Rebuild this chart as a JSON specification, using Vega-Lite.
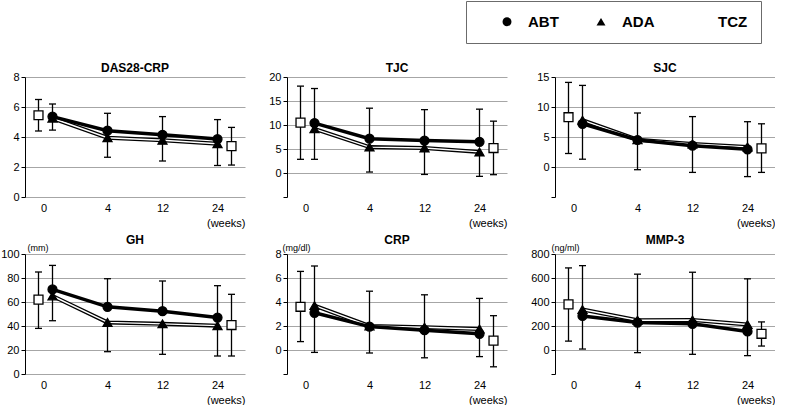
{
"$schema": "https://vega.github.io/schema/vega-lite/v6.json",
"padding": 0,
"data": {"values": [
{"m":"DAS28-CRP","g":"ABT","week":0,"v":5.36,"hi":6.2},
{"m":"DAS28-CRP","g":"ABT","week":4,"v":4.42,"hi":5.58},
{"m":"DAS28-CRP","g":"ABT","week":12,"v":4.15,"hi":5.36},
{"m":"DAS28-CRP","g":"ABT","week":24,"v":3.86,"hi":5.16},
{"m":"DAS28-CRP","g":"ADA","week":0,"v":5.25,"lo":4.46},
{"m":"DAS28-CRP","g":"ADA","week":4,"v":3.95,"lo":2.65},
{"m":"DAS28-CRP","g":"ADA","week":12,"v":3.78,"lo":2.4},
{"m":"DAS28-CRP","g":"ADA","week":24,"v":3.55,"lo":2.1},
{"m":"DAS28-CRP","g":"TCZ","week":0,"v":5.45,"lo":4.4,"hi":6.5},
{"m":"DAS28-CRP","g":"TCZ","week":24,"v":3.39,"lo":2.13,"hi":4.64},
{"m":"TJC","g":"ABT","week":0,"v":10.4,"hi":17.6},
{"m":"TJC","g":"ABT","week":4,"v":7.15,"hi":13.5},
{"m":"TJC","g":"ABT","week":12,"v":6.75,"hi":13.2},
{"m":"TJC","g":"ABT","week":24,"v":6.5,"hi":13.3},
{"m":"TJC","g":"ADA","week":0,"v":9.2,"lo":2.85},
{"m":"TJC","g":"ADA","week":4,"v":5.4,"lo":0.2},
{"m":"TJC","g":"ADA","week":12,"v":5.2,"lo":-0.3},
{"m":"TJC","g":"ADA","week":24,"v":4.4,"lo":-0.7},
{"m":"TJC","g":"TCZ","week":0,"v":10.5,"lo":2.85,"hi":18.1},
{"m":"TJC","g":"TCZ","week":24,"v":5.2,"lo":-0.35,"hi":10.8},
{"m":"SJC","g":"ABT","week":0,"v":7.2,"hi":13.6},
{"m":"SJC","g":"ABT","week":4,"v":4.5,"hi":9.0},
{"m":"SJC","g":"ABT","week":12,"v":3.55,"hi":8.4},
{"m":"SJC","g":"ABT","week":24,"v":2.95,"hi":7.55},
{"m":"SJC","g":"ADA","week":0,"v":7.8,"lo":1.3},
{"m":"SJC","g":"ADA","week":4,"v":4.55,"lo":-0.45},
{"m":"SJC","g":"ADA","week":12,"v":3.85,"lo":-0.9},
{"m":"SJC","g":"ADA","week":24,"v":3.35,"lo":-1.6},
{"m":"SJC","g":"TCZ","week":0,"v":8.3,"lo":2.25,"hi":14.1},
{"m":"SJC","g":"TCZ","week":24,"v":3.1,"lo":-0.9,"hi":7.2},
{"m":"GH","g":"ABT","week":0,"v":70.5,"hi":90.5},
{"m":"GH","g":"ABT","week":4,"v":56,"hi":79.4},
{"m":"GH","g":"ABT","week":12,"v":52.3,"hi":77.5},
{"m":"GH","g":"ABT","week":24,"v":47,"hi":73.6},
{"m":"GH","g":"ADA","week":0,"v":65,"lo":44.4},
{"m":"GH","g":"ADA","week":4,"v":43,"lo":18.6},
{"m":"GH","g":"ADA","week":12,"v":41.8,"lo":16.4},
{"m":"GH","g":"ADA","week":24,"v":40.3,"lo":15},
{"m":"GH","g":"TCZ","week":0,"v":62,"lo":38,"hi":85},
{"m":"GH","g":"TCZ","week":24,"v":40.8,"lo":15,"hi":66.4},
{"m":"CRP","g":"ABT","week":0,"v":3.1,"hi":7.0},
{"m":"CRP","g":"ABT","week":4,"v":1.95,"hi":4.9},
{"m":"CRP","g":"ABT","week":12,"v":1.65,"hi":4.6},
{"m":"CRP","g":"ABT","week":24,"v":1.35,"hi":4.3},
{"m":"CRP","g":"ADA","week":0,"v":3.7,"lo":-0.2},
{"m":"CRP","g":"ADA","week":4,"v":2.0,"lo":-0.25},
{"m":"CRP","g":"ADA","week":12,"v":1.9,"lo":-0.65},
{"m":"CRP","g":"ADA","week":24,"v":1.75,"lo":-0.55},
{"m":"CRP","g":"TCZ","week":0,"v":3.6,"lo":0.7,"hi":6.55},
{"m":"CRP","g":"TCZ","week":24,"v":0.78,"lo":-1.4,"hi":2.86},
{"m":"MMP-3","g":"ABT","week":0,"v":284,"hi":703},
{"m":"MMP-3","g":"ABT","week":4,"v":229,"hi":632},
{"m":"MMP-3","g":"ABT","week":12,"v":218,"hi":648},
{"m":"MMP-3","g":"ABT","week":24,"v":155,"hi":593},
{"m":"MMP-3","g":"ADA","week":0,"v":337,"lo":8},
{"m":"MMP-3","g":"ADA","week":4,"v":248,"lo":-22},
{"m":"MMP-3","g":"ADA","week":12,"v":250,"lo":-36},
{"m":"MMP-3","g":"ADA","week":24,"v":212,"lo":-47},
{"m":"MMP-3","g":"TCZ","week":0,"v":380,"lo":74,"hi":684},
{"m":"MMP-3","g":"TCZ","week":24,"v":135,"lo":33,"hi":234}
]},
"transform": [{"calculate": "datum.g === 'TCZ' ? (datum.week === 0 ? -1 : 1) : 0", "as": "side"}],
"columns": 3,
"spacing": {"row": 6, "column": 23},
"concat": [
{
 "title": "DAS28-CRP", "width": 220, "height": 120,
 "transform": [{"filter": "datum.m === 'DAS28-CRP'"}],
 "encoding": {
  "x": {"field":"week","type":"ordinal","title":"(weeks)","scale":{"type":"point","domain":[0,4,12,24],"padding":0.5},"axis":{"labelOffset":{"condition":{"test":"datum.value === 0","value":-9},"value":0}}},
  "y": {"field":"v","type":"quantitative","scale":{"domain":[0,8],"nice":false,"zero":false},"axis":{"values":[0,2,4,6,8],"title":null,"labelExpr":"datum.value < 0 ? '' : datum.label","gridColor":{"condition":{"test":"datum.value < 0","value":"transparent"},"value":"#a6a6a6"}}}
 },
 "layer": [
  {"transform":[{"filter":"datum.hi != null"}],"mark":{"type":"rule","color":"black","strokeWidth":1.3},"encoding":{"xOffset":{"field":"side","type":"quantitative","scale":{"domain":[-1,1],"range":[-14,14]}},"y2":{"field":"hi"}}},
  {"transform":[{"filter":"datum.lo != null"}],"mark":{"type":"rule","color":"black","strokeWidth":1.3},"encoding":{"xOffset":{"field":"side","type":"quantitative","scale":{"domain":[-1,1],"range":[-14,14]}},"y2":{"field":"lo"}}},
  {"transform":[{"filter":"datum.hi != null"}],"mark":{"type":"tick","color":"black","size":7,"thickness":1.3,"opacity":1},"encoding":{"xOffset":{"field":"side","type":"quantitative","scale":{"domain":[-1,1],"range":[-14,14]}},"y":{"field":"hi","type":"quantitative","scale":{"domain":[0,8],"nice":false,"zero":false}}}},
  {"transform":[{"filter":"datum.lo != null"}],"mark":{"type":"tick","color":"black","size":7,"thickness":1.3,"opacity":1},"encoding":{"xOffset":{"field":"side","type":"quantitative","scale":{"domain":[-1,1],"range":[-14,14]}},"y":{"field":"lo","type":"quantitative","scale":{"domain":[0,8],"nice":false,"zero":false}}}},
  {"transform":[{"filter":"datum.g === 'ADA'"}],"mark":{"type":"line","color":"black","strokeWidth":4},"encoding":{}},
  {"transform":[{"filter":"datum.g === 'ADA'"}],"mark":{"type":"line","color":"white","strokeWidth":1.4},"encoding":{}},
  {"transform":[{"filter":"datum.g === 'ABT'"}],"mark":{"type":"line","color":"black","strokeWidth":3.5},"encoding":{}},
  {"mark":{"type":"point","filled":true,"opacity":1,"size":80,"stroke":"black","strokeWidth":1.3},"encoding":{
    "xOffset":{"field":"side","type":"quantitative","scale":{"domain":[-1,1],"range":[-14,14]}},
    "shape":{"field":"g","type":"nominal","scale":{"domain":["ABT","ADA","TCZ"],"range":["circle","triangle-up","square"]},"legend":{"title":null}},
    "fill":{"field":"g","type":"nominal","scale":{"domain":["ABT","ADA","TCZ"],"range":["black","black","white"]},"legend":{"title":null}}}}
 ]
},
{
 "title": "TJC", "width": 220, "height": 120,
 "transform": [{"filter": "datum.m === 'TJC'"}],
 "encoding": {
  "x": {"field":"week","type":"ordinal","title":"(weeks)","scale":{"type":"point","domain":[0,4,12,24],"padding":0.5},"axis":{"labelOffset":{"condition":{"test":"datum.value === 0","value":-9},"value":0}}},
  "y": {"field":"v","type":"quantitative","scale":{"domain":[-5,20],"nice":false,"zero":false},"axis":{"values":[-5,0,5,10,15,20],"title":null,"labelExpr":"datum.value < 0 ? '' : datum.label","gridColor":{"condition":{"test":"datum.value < 0","value":"transparent"},"value":"#a6a6a6"}}}
 },
 "layer": [
  {"transform":[{"filter":"datum.hi != null"}],"mark":{"type":"rule","color":"black","strokeWidth":1.3},"encoding":{"xOffset":{"field":"side","type":"quantitative","scale":{"domain":[-1,1],"range":[-14,14]}},"y2":{"field":"hi"}}},
  {"transform":[{"filter":"datum.lo != null"}],"mark":{"type":"rule","color":"black","strokeWidth":1.3},"encoding":{"xOffset":{"field":"side","type":"quantitative","scale":{"domain":[-1,1],"range":[-14,14]}},"y2":{"field":"lo"}}},
  {"transform":[{"filter":"datum.hi != null"}],"mark":{"type":"tick","color":"black","size":7,"thickness":1.3,"opacity":1},"encoding":{"xOffset":{"field":"side","type":"quantitative","scale":{"domain":[-1,1],"range":[-14,14]}},"y":{"field":"hi","type":"quantitative","scale":{"domain":[-5,20],"nice":false,"zero":false}}}},
  {"transform":[{"filter":"datum.lo != null"}],"mark":{"type":"tick","color":"black","size":7,"thickness":1.3,"opacity":1},"encoding":{"xOffset":{"field":"side","type":"quantitative","scale":{"domain":[-1,1],"range":[-14,14]}},"y":{"field":"lo","type":"quantitative","scale":{"domain":[-5,20],"nice":false,"zero":false}}}},
  {"transform":[{"filter":"datum.g === 'ADA'"}],"mark":{"type":"line","color":"black","strokeWidth":4},"encoding":{}},
  {"transform":[{"filter":"datum.g === 'ADA'"}],"mark":{"type":"line","color":"white","strokeWidth":1.4},"encoding":{}},
  {"transform":[{"filter":"datum.g === 'ABT'"}],"mark":{"type":"line","color":"black","strokeWidth":3.5},"encoding":{}},
  {"mark":{"type":"point","filled":true,"opacity":1,"size":80,"stroke":"black","strokeWidth":1.3},"encoding":{
    "xOffset":{"field":"side","type":"quantitative","scale":{"domain":[-1,1],"range":[-14,14]}},
    "shape":{"field":"g","type":"nominal","scale":{"domain":["ABT","ADA","TCZ"],"range":["circle","triangle-up","square"]}},
    "fill":{"field":"g","type":"nominal","scale":{"domain":["ABT","ADA","TCZ"],"range":["black","black","white"]}}}}
 ]
},
{
 "title": "SJC", "width": 220, "height": 120,
 "transform": [{"filter": "datum.m === 'SJC'"}],
 "encoding": {
  "x": {"field":"week","type":"ordinal","title":"(weeks)","scale":{"type":"point","domain":[0,4,12,24],"padding":0.5},"axis":{"labelOffset":{"condition":{"test":"datum.value === 0","value":-9},"value":0}}},
  "y": {"field":"v","type":"quantitative","scale":{"domain":[-5,15],"nice":false,"zero":false},"axis":{"values":[-5,0,5,10,15],"title":null,"labelExpr":"datum.value < 0 ? '' : datum.label","gridColor":{"condition":{"test":"datum.value < 0","value":"transparent"},"value":"#a6a6a6"}}}
 },
 "layer": [
  {"transform":[{"filter":"datum.hi != null"}],"mark":{"type":"rule","color":"black","strokeWidth":1.3},"encoding":{"xOffset":{"field":"side","type":"quantitative","scale":{"domain":[-1,1],"range":[-14,14]}},"y2":{"field":"hi"}}},
  {"transform":[{"filter":"datum.lo != null"}],"mark":{"type":"rule","color":"black","strokeWidth":1.3},"encoding":{"xOffset":{"field":"side","type":"quantitative","scale":{"domain":[-1,1],"range":[-14,14]}},"y2":{"field":"lo"}}},
  {"transform":[{"filter":"datum.hi != null"}],"mark":{"type":"tick","color":"black","size":7,"thickness":1.3,"opacity":1},"encoding":{"xOffset":{"field":"side","type":"quantitative","scale":{"domain":[-1,1],"range":[-14,14]}},"y":{"field":"hi","type":"quantitative","scale":{"domain":[-5,15],"nice":false,"zero":false}}}},
  {"transform":[{"filter":"datum.lo != null"}],"mark":{"type":"tick","color":"black","size":7,"thickness":1.3,"opacity":1},"encoding":{"xOffset":{"field":"side","type":"quantitative","scale":{"domain":[-1,1],"range":[-14,14]}},"y":{"field":"lo","type":"quantitative","scale":{"domain":[-5,15],"nice":false,"zero":false}}}},
  {"transform":[{"filter":"datum.g === 'ADA'"}],"mark":{"type":"line","color":"black","strokeWidth":4},"encoding":{}},
  {"transform":[{"filter":"datum.g === 'ADA'"}],"mark":{"type":"line","color":"white","strokeWidth":1.4},"encoding":{}},
  {"transform":[{"filter":"datum.g === 'ABT'"}],"mark":{"type":"line","color":"black","strokeWidth":3.5},"encoding":{}},
  {"mark":{"type":"point","filled":true,"opacity":1,"size":80,"stroke":"black","strokeWidth":1.3},"encoding":{
    "xOffset":{"field":"side","type":"quantitative","scale":{"domain":[-1,1],"range":[-14,14]}},
    "shape":{"field":"g","type":"nominal","scale":{"domain":["ABT","ADA","TCZ"],"range":["circle","triangle-up","square"]}},
    "fill":{"field":"g","type":"nominal","scale":{"domain":["ABT","ADA","TCZ"],"range":["black","black","white"]}}}}
 ]
},
{
 "title": "GH", "width": 220, "height": 120,
 "transform": [{"filter": "datum.m === 'GH'"}],
 "encoding": {
  "x": {"field":"week","type":"ordinal","title":"(weeks)","scale":{"type":"point","domain":[0,4,12,24],"padding":0.5},"axis":{"labelOffset":{"condition":{"test":"datum.value === 0","value":-9},"value":0}}},
  "y": {"field":"v","type":"quantitative","scale":{"domain":[0,100],"nice":false,"zero":false},"axis":{"values":[0,20,40,60,80,100],"title":"(mm)","titleX":2,"labelExpr":"datum.value < 0 ? '' : datum.label","gridColor":{"condition":{"test":"datum.value < 0","value":"transparent"},"value":"#a6a6a6"}}}
 },
 "layer": [
  {"transform":[{"filter":"datum.hi != null"}],"mark":{"type":"rule","color":"black","strokeWidth":1.3},"encoding":{"xOffset":{"field":"side","type":"quantitative","scale":{"domain":[-1,1],"range":[-14,14]}},"y2":{"field":"hi"}}},
  {"transform":[{"filter":"datum.lo != null"}],"mark":{"type":"rule","color":"black","strokeWidth":1.3},"encoding":{"xOffset":{"field":"side","type":"quantitative","scale":{"domain":[-1,1],"range":[-14,14]}},"y2":{"field":"lo"}}},
  {"transform":[{"filter":"datum.hi != null"}],"mark":{"type":"tick","color":"black","size":7,"thickness":1.3,"opacity":1},"encoding":{"xOffset":{"field":"side","type":"quantitative","scale":{"domain":[-1,1],"range":[-14,14]}},"y":{"field":"hi","type":"quantitative","scale":{"domain":[0,100],"nice":false,"zero":false}}}},
  {"transform":[{"filter":"datum.lo != null"}],"mark":{"type":"tick","color":"black","size":7,"thickness":1.3,"opacity":1},"encoding":{"xOffset":{"field":"side","type":"quantitative","scale":{"domain":[-1,1],"range":[-14,14]}},"y":{"field":"lo","type":"quantitative","scale":{"domain":[0,100],"nice":false,"zero":false}}}},
  {"transform":[{"filter":"datum.g === 'ADA'"}],"mark":{"type":"line","color":"black","strokeWidth":4},"encoding":{}},
  {"transform":[{"filter":"datum.g === 'ADA'"}],"mark":{"type":"line","color":"white","strokeWidth":1.4},"encoding":{}},
  {"transform":[{"filter":"datum.g === 'ABT'"}],"mark":{"type":"line","color":"black","strokeWidth":3.5},"encoding":{}},
  {"mark":{"type":"point","filled":true,"opacity":1,"size":80,"stroke":"black","strokeWidth":1.3},"encoding":{
    "xOffset":{"field":"side","type":"quantitative","scale":{"domain":[-1,1],"range":[-14,14]}},
    "shape":{"field":"g","type":"nominal","scale":{"domain":["ABT","ADA","TCZ"],"range":["circle","triangle-up","square"]}},
    "fill":{"field":"g","type":"nominal","scale":{"domain":["ABT","ADA","TCZ"],"range":["black","black","white"]}}}}
 ]
},
{
 "title": "CRP", "width": 220, "height": 120,
 "transform": [{"filter": "datum.m === 'CRP'"}],
 "encoding": {
  "x": {"field":"week","type":"ordinal","title":"(weeks)","scale":{"type":"point","domain":[0,4,12,24],"padding":0.5},"axis":{"labelOffset":{"condition":{"test":"datum.value === 0","value":-9},"value":0}}},
  "y": {"field":"v","type":"quantitative","scale":{"domain":[-2,8],"nice":false,"zero":false},"axis":{"values":[-2,0,2,4,6,8],"title":"(mg/dl)","titleX":-5,"labelExpr":"datum.value < 0 ? '' : datum.label","gridColor":{"condition":{"test":"datum.value < 0","value":"transparent"},"value":"#a6a6a6"}}}
 },
 "layer": [
  {"transform":[{"filter":"datum.hi != null"}],"mark":{"type":"rule","color":"black","strokeWidth":1.3},"encoding":{"xOffset":{"field":"side","type":"quantitative","scale":{"domain":[-1,1],"range":[-14,14]}},"y2":{"field":"hi"}}},
  {"transform":[{"filter":"datum.lo != null"}],"mark":{"type":"rule","color":"black","strokeWidth":1.3},"encoding":{"xOffset":{"field":"side","type":"quantitative","scale":{"domain":[-1,1],"range":[-14,14]}},"y2":{"field":"lo"}}},
  {"transform":[{"filter":"datum.hi != null"}],"mark":{"type":"tick","color":"black","size":7,"thickness":1.3,"opacity":1},"encoding":{"xOffset":{"field":"side","type":"quantitative","scale":{"domain":[-1,1],"range":[-14,14]}},"y":{"field":"hi","type":"quantitative","scale":{"domain":[-2,8],"nice":false,"zero":false}}}},
  {"transform":[{"filter":"datum.lo != null"}],"mark":{"type":"tick","color":"black","size":7,"thickness":1.3,"opacity":1},"encoding":{"xOffset":{"field":"side","type":"quantitative","scale":{"domain":[-1,1],"range":[-14,14]}},"y":{"field":"lo","type":"quantitative","scale":{"domain":[-2,8],"nice":false,"zero":false}}}},
  {"transform":[{"filter":"datum.g === 'ADA'"}],"mark":{"type":"line","color":"black","strokeWidth":4},"encoding":{}},
  {"transform":[{"filter":"datum.g === 'ADA'"}],"mark":{"type":"line","color":"white","strokeWidth":1.4},"encoding":{}},
  {"transform":[{"filter":"datum.g === 'ABT'"}],"mark":{"type":"line","color":"black","strokeWidth":3.5},"encoding":{}},
  {"mark":{"type":"point","filled":true,"opacity":1,"size":80,"stroke":"black","strokeWidth":1.3},"encoding":{
    "xOffset":{"field":"side","type":"quantitative","scale":{"domain":[-1,1],"range":[-14,14]}},
    "shape":{"field":"g","type":"nominal","scale":{"domain":["ABT","ADA","TCZ"],"range":["circle","triangle-up","square"]}},
    "fill":{"field":"g","type":"nominal","scale":{"domain":["ABT","ADA","TCZ"],"range":["black","black","white"]}}}}
 ]
},
{
 "title": "MMP-3", "width": 220, "height": 120,
 "transform": [{"filter": "datum.m === 'MMP-3'"}],
 "encoding": {
  "x": {"field":"week","type":"ordinal","title":"(weeks)","scale":{"type":"point","domain":[0,4,12,24],"padding":0.5},"axis":{"labelOffset":{"condition":{"test":"datum.value === 0","value":-9},"value":0}}},
  "y": {"field":"v","type":"quantitative","scale":{"domain":[-200,800],"nice":false,"zero":false},"axis":{"values":[-200,0,200,400,600,800],"title":"(ng/ml)","titleX":-4,"labelExpr":"datum.value < 0 ? '' : datum.label","gridColor":{"condition":{"test":"datum.value < 0","value":"transparent"},"value":"#a6a6a6"}}}
 },
 "layer": [
  {"transform":[{"filter":"datum.hi != null"}],"mark":{"type":"rule","color":"black","strokeWidth":1.3},"encoding":{"xOffset":{"field":"side","type":"quantitative","scale":{"domain":[-1,1],"range":[-14,14]}},"y2":{"field":"hi"}}},
  {"transform":[{"filter":"datum.lo != null"}],"mark":{"type":"rule","color":"black","strokeWidth":1.3},"encoding":{"xOffset":{"field":"side","type":"quantitative","scale":{"domain":[-1,1],"range":[-14,14]}},"y2":{"field":"lo"}}},
  {"transform":[{"filter":"datum.hi != null"}],"mark":{"type":"tick","color":"black","size":7,"thickness":1.3,"opacity":1},"encoding":{"xOffset":{"field":"side","type":"quantitative","scale":{"domain":[-1,1],"range":[-14,14]}},"y":{"field":"hi","type":"quantitative","scale":{"domain":[-200,800],"nice":false,"zero":false}}}},
  {"transform":[{"filter":"datum.lo != null"}],"mark":{"type":"tick","color":"black","size":7,"thickness":1.3,"opacity":1},"encoding":{"xOffset":{"field":"side","type":"quantitative","scale":{"domain":[-1,1],"range":[-14,14]}},"y":{"field":"lo","type":"quantitative","scale":{"domain":[-200,800],"nice":false,"zero":false}}}},
  {"transform":[{"filter":"datum.g === 'ADA'"}],"mark":{"type":"line","color":"black","strokeWidth":4},"encoding":{}},
  {"transform":[{"filter":"datum.g === 'ADA'"}],"mark":{"type":"line","color":"white","strokeWidth":1.4},"encoding":{}},
  {"transform":[{"filter":"datum.g === 'ABT'"}],"mark":{"type":"line","color":"black","strokeWidth":3.5},"encoding":{}},
  {"mark":{"type":"point","filled":true,"opacity":1,"size":80,"stroke":"black","strokeWidth":1.3},"encoding":{
    "xOffset":{"field":"side","type":"quantitative","scale":{"domain":[-1,1],"range":[-14,14]}},
    "shape":{"field":"g","type":"nominal","scale":{"domain":["ABT","ADA","TCZ"],"range":["circle","triangle-up","square"]}},
    "fill":{"field":"g","type":"nominal","scale":{"domain":["ABT","ADA","TCZ"],"range":["black","black","white"]}}}}
 ]
}
],
"config": {
 "font": "Liberation Sans",
 "view": {"stroke": null},
 "title": {"fontSize": 12, "fontWeight": "bold", "font": "Liberation Sans", "offset": -4, "frame": "group", "anchor": "middle", "color": "black"},
 "axisY": {"domainColor": "black", "tickColor": "black", "tickSize": 4, "labelFontSize": 11, "labelColor": "black", "labelPadding": 2, "titleAngle": 0, "titleY": -2, "titleAlign": "left", "titleBaseline": "bottom", "titleFontSize": 9, "titleFontWeight": "normal", "titleColor": "black", "gridWidth": 1},
 "axisX": {"domain": false, "ticks": false, "tickSize": 0, "grid": false, "labelFontSize": 11, "labelColor": "black", "labelPadding": 5, "labelAngle": 0, "titleX": 220, "titleY": 20, "titleAlign": "right", "titleBaseline": "top", "titleFontSize": 11, "titleFontWeight": "normal", "titleColor": "black"},
 "legend": {"orient": "none", "legendX": 441, "legendY": -76, "direction": "horizontal", "padding": 13, "strokeColor": "#6b6b6b", "fillColor": "white", "labelFont": "Liberation Sans", "labelFontSize": 15, "labelFontWeight": "bold", "labelColor": "black", "labelOffset": 13.5, "symbolOffset": 20.5, "columnPadding": 14, "symbolSize": 80, "symbolStrokeColor": "black"}
}
}
